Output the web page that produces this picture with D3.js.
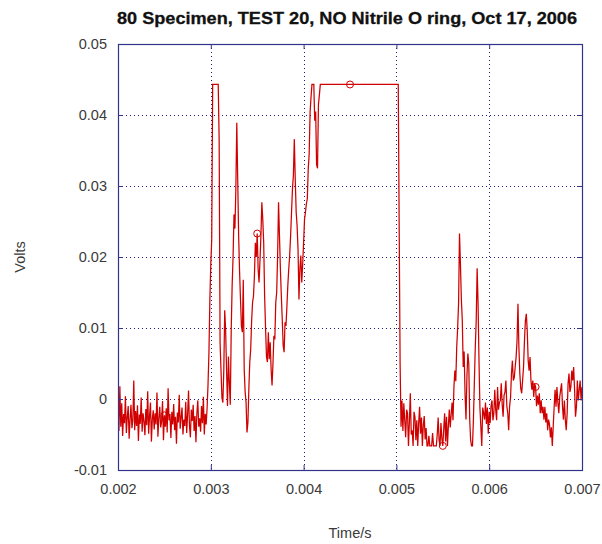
<!DOCTYPE html>
<html>
<head>
<meta charset="utf-8">
<script src="https://cdn.jsdelivr.net/npm/d3@7"></script>
<style>
  html, body { margin: 0; padding: 0; background: #fff; }
  svg { display: block; }
  text { font-family: "Liberation Sans", Arial, sans-serif; }
</style>
</head>
<body>
<svg id="chart" width="602" height="544"></svg>
<script>
// Acquisition grid: one sample every 10 microseconds from t = 2 ms
const startTime = 0.002;
const sampleStep = 0.00001;

// Recorded trace in millivolts, split by phase of the test
const preTrigger_mV = [
  -1.2, -4.5, 1.8, -3.9, -0.6, -5.2, -2.1, -3.4, 0.4, -4.8,
  -2.6, -1.0, -5.6, -2.9, -0.8, -4.1, -3.0, 2.6, -4.4, -1.7,
  -3.8, -0.9, -5.9, -2.2, -3.5, 0.2, -4.6, -2.0, -3.1, -5.1,
  -1.4, -3.7, 1.1, -4.9, -2.4, -0.5, -6.0, -2.8, -1.6, -4.3,
  -2.0, -3.6, 0.9, -5.3, -2.7, -1.1, -4.0, -3.2, -0.3, -5.8,
  -2.3, -3.9, -1.3, -4.7, 1.5, -3.0, -2.1, -5.5, -1.8, -3.6,
  -0.7, -4.4, -2.5, -6.3, -1.9, -3.3, 0.6, -4.2, -2.6, -1.2,
  -5.0, -2.9, -3.8, -0.4, -4.8, -2.2, 1.2, -3.7, -5.4, -1.5,
  -3.1, -0.8, -4.5, -2.4, -6.1, -2.0, -0.2, -3.9, -2.7, -4.6,
  -1.0, -3.4, 0.3, -5.0, -2.1, -3.6, -1.3
];

const firstBurst_mV = [
  2.0, 6.5, 14.0,
  19.0, 22.5, 44.3, 44.3, 44.3, 44.3, 44.3, 44.3, 44.3, 36.5,
  8.0, 4.0, 0.2, -0.5, 4.0, 12.5, 9.6, 4.0, -1.0, 6.0,
  2.3, -0.8, 9.7, 16.0, 20.0, 26.0, 24.0, 29.6, 38.9, 31.0,
  23.0, 18.0, 14.0, 10.3, 9.4, 16.8, 4.2, 1.0, -0.5, -4.7,
  -3.3, 1.4, 5.2, 7.0, 11.0, 13.6, 14.5, 17.3, 22.0, 20.0,
  23.3, 18.3, 16.4, 19.5, 23.0, 27.7, 25.3, 22.0, 14.5, 10.0,
  6.0, 5.2, 9.4, 5.6, 8.0, 4.2, 1.9, 5.0, 8.9, 8.4,
  13.6, 15.0, 20.2, 27.7, 23.0, 18.3, 14.5, 11.2, 7.5, 6.6,
  10.8, 10.3, 13.0, 16.0, 18.3, 20.2, 23.0, 26.3, 29.6, 31.5,
  36.6, 31.0, 26.3, 24.4, 21.1, 14.0, 18.3, 20.2, 16.4, 19.0,
  22.0, 25.3, 26.3, 27.5, 28.2, 32.4, 34.5, 40.4, 42.5, 44.3,
  44.3, 44.3, 39.2, 40.5, 33.0, 32.5, 41.5, 42.8
];

// Amplifier clipped at its upper limit for this stretch
const saturated_mV = [
  44.3, 44.3,
  44.3, 44.3, 44.3, 44.3, 44.3, 44.3, 44.3, 44.3, 44.3, 44.3,
  44.3, 44.3, 44.3, 44.3, 44.3, 44.3, 44.3, 44.3, 44.3, 44.3,
  44.3, 44.3, 44.3, 44.3, 44.3, 44.3, 44.3, 44.3, 44.3, 44.3,
  44.3, 44.3, 44.3, 44.3, 44.3, 44.3, 44.3, 44.3, 44.3, 44.3,
  44.3, 44.3, 44.3, 44.3, 44.3, 44.3, 44.3, 44.3, 44.3, 44.3,
  44.3, 44.3, 44.3, 44.3, 44.3, 44.3, 44.3, 44.3, 44.3, 44.3,
  44.3, 44.3, 44.3, 44.3, 44.3, 44.3, 44.3, 44.3, 44.3, 44.3,
  44.3, 44.3, 44.3, 44.3, 44.3, 44.3, 44.3, 44.3, 44.3, 44.3,
  44.3, 44.3, 44.3
];

const release_mV = [
  24.0, 4.9, -3.9, -0.2, -4.5, -0.6, -3.0,
  -5.4, -1.5, -2.0, -6.6, -3.2, 0.8, -5.0, -4.4, -6.6, -1.8,
  -2.5, -5.8, -3.0, -6.6, -3.4, -1.1, -4.9, -2.6, -6.6, -3.7,
  -2.4, -5.7, -4.1, -6.6, -6.6, -5.2, -6.6, -6.6, -6.6, -4.8,
  -6.6, -6.6, -6.6, -6.6, -5.0, -2.6, -5.8, -6.6, -3.4, -5.6,
  -6.6, -4.2, -2.0, -6.0, -2.5, -6.6, -3.8, -1.5, -4.0, -2.2,
  -0.5, -3.0
];

const afterShocks_mV = [
  1.7, 4.0, 2.5, 7.3, 10.0, 13.5, 23.3, 19.0,
  14.0, 11.1, 4.5, 6.7, 0.6, -2.9, 3.2, 6.4, 5.0, -2.9,
  -5.8, -6.6, -6.6, -2.9, 2.3, 7.3, 11.0, 18.4, 13.5, 5.4,
  -1.2, -3.9, -6.6, -1.2, -2.0, -2.9, -0.5, -3.5, -1.2, -4.9,
  -1.8, -3.4, -1.0, -0.2, -3.0, -2.0, 1.3, -1.5, -3.0, 1.7,
  -1.5, -0.5, -0.2, 2.2, -0.8, -2.5, 0.5, 1.0, 2.6, -1.0,
  -2.0, -4.4, -1.0, 0.2, 3.6, 5.4, 2.6, 3.0, 4.5, 5.9,
  8.2, 13.4, 7.3, 3.6, 1.5, 0.8, 2.6, 4.5, 8.2, 11.0,
  12.0, 9.6, 5.4, 4.0, 5.9, 2.6, 1.3, 2.6, 0.3, 2.2,
  1.7, -1.0, 0.5, -0.8, 0.8, -2.0, -0.2, -2.0, -1.1, -2.9,
  -1.1, -3.3, -2.0, -4.4, -2.9, -3.6, -5.4, -4.0, -6.6, -3.8,
  -1.1, 1.3, -1.1, 1.7, -0.5, -2.0, 0.3, 1.3, 2.2, -1.1,
  -2.9, -0.2, -2.9, -4.4, -2.0, 2.2, 3.6, 1.0, 1.7, 4.0,
  2.6, 4.5, 1.3, -2.5, -1.1, 2.6, -0.2, 1.3, 2.6, -0.2,
  1.7
];

// Sample times that carry a circle marker
const markerTimes = [0.0025, 0.0035, 0.0045, 0.0055, 0.0065];

// Axis ticks and their printed labels
const xTicks = [0.002, 0.003, 0.004, 0.005, 0.006, 0.007];
const xTickLabels = ["0.002", "0.003", "0.004", "0.005", "0.006", "0.007"];
const yTicks = [-0.01, 0, 0.01, 0.02, 0.03, 0.04, 0.05];
const yTickLabels = ["-0.01", "0", "0.01", "0.02", "0.03", "0.04", "0.05"];

const titleText = "80 Specimen, TEST 20, NO Nitrile O ring, Oct 17, 2006";
const xLabelText = "Time/s";
const yLabelText = "Volts";

// ---- build the series ----
const trace_mV = [].concat(preTrigger_mV, firstBurst_mV, saturated_mV, release_mV, afterShocks_mV);
const samples = trace_mV.map((mv, i) => ({ t: startTime + i * sampleStep, v: mv / 1000 }));

// ---- layout ----
const plot = { left: 118, top: 44, width: 464, height: 426 };
const svg = d3.select("#chart");

const x = d3.scaleLinear().domain([0.002, 0.007]).range([plot.left, plot.left + plot.width]);
const y = d3.scaleLinear().domain([-0.01, 0.05]).range([plot.top + plot.height, plot.top]);

const axisColor = "#33338a";
const gridColor = "#1c1c80";
const lineColor = "#d00000";

// Grid lines (dotted) at interior ticks
const grid = svg.append("g");
grid.selectAll("line.vx")
  .data(xTicks.slice(1, -1))
  .join("line")
  .attr("x1", d => Math.round(x(d)) + 0.5).attr("x2", d => Math.round(x(d)) + 0.5)
  .attr("y1", plot.top).attr("y2", plot.top + plot.height)
  .attr("stroke", gridColor).attr("stroke-width", 1)
  .attr("stroke-dasharray", "1,3");
grid.selectAll("line.hy")
  .data(yTicks.slice(1, -1))
  .join("line")
  .attr("y1", d => Math.round(y(d)) + 0.5).attr("y2", d => Math.round(y(d)) + 0.5)
  .attr("x1", plot.left).attr("x2", plot.left + plot.width)
  .attr("stroke", gridColor).attr("stroke-width", 1)
  .attr("stroke-dasharray", "1,3");

// Signal trace
const clipId = "plot-clip";
svg.append("clipPath").attr("id", clipId)
  .append("rect")
  .attr("x", plot.left).attr("y", plot.top)
  .attr("width", plot.width).attr("height", plot.height);

const line = d3.line().x(d => x(d.t)).y(d => y(d.v));
svg.append("path")
  .datum(samples)
  .attr("clip-path", `url(#${clipId})`)
  .attr("fill", "none")
  .attr("stroke", lineColor)
  .attr("stroke-width", 1.25)
  .attr("stroke-linejoin", "miter")
  .attr("d", line);

// Circle markers on selected samples
const markerSamples = markerTimes.map(t => samples[Math.round((t - startTime) / sampleStep)]);
svg.append("g").selectAll("circle")
  .data(markerSamples)
  .join("circle")
  .attr("cx", d => x(d.t)).attr("cy", d => y(d.v))
  .attr("r", 3.5)
  .attr("fill", "none")
  .attr("stroke", lineColor)
  .attr("stroke-width", 1);

// Axes: labels outside, short tick marks pointing in
const tickFont = "14.5px";
const xAxis = d3.axisBottom(x).tickValues(xTicks).tickFormat((d, i) => xTickLabels[i]).tickSize(-5).tickPadding(14);
const yAxis = d3.axisLeft(y).tickValues(yTicks).tickFormat((d, i) => yTickLabels[i]).tickSize(-5).tickPadding(11);
const xAxisTop = d3.axisTop(x).tickValues(xTicks).tickFormat("").tickSize(-5);
const yAxisRight = d3.axisRight(y).tickValues(yTicks).tickFormat("").tickSize(-5);

function styleAxis(g) {
  g.select(".domain").remove();
  g.selectAll(".tick line").attr("stroke", axisColor);
  g.selectAll(".tick text").attr("fill", "#3a3a3a").style("font-size", tickFont)
    .style("font-family", "'Liberation Sans', Arial, sans-serif");
}

svg.append("g").attr("transform", `translate(0,${plot.top + plot.height})`).call(xAxis).call(styleAxis);
svg.append("g").attr("transform", `translate(${plot.left},0)`).call(yAxis).call(styleAxis);
svg.append("g").attr("transform", `translate(0,${plot.top})`).call(xAxisTop).call(styleAxis);
svg.append("g").attr("transform", `translate(${plot.left + plot.width},0)`).call(yAxisRight).call(styleAxis);

// Frame
svg.append("rect")
  .attr("x", plot.left + 0.5).attr("y", plot.top + 0.5)
  .attr("width", plot.width).attr("height", plot.height)
  .attr("fill", "none").attr("stroke", axisColor).attr("stroke-width", 1.2);

// Title and axis labels
svg.append("text")
  .attr("x", 347).attr("y", 24)
  .attr("text-anchor", "middle")
  .style("font-size", "17px").style("font-weight", "bold")
  .attr("fill", "#111").attr("stroke", "#111").attr("stroke-width", 0.3)
  .attr("textLength", 460).attr("lengthAdjust", "spacingAndGlyphs")
  .text(titleText);

svg.append("text")
  .attr("x", plot.left + plot.width / 2).attr("y", 538)
  .attr("text-anchor", "middle")
  .style("font-size", tickFont).attr("fill", "#3a3a3a")
  .text(xLabelText);

svg.append("text")
  .attr("transform", `translate(25,${plot.top + plot.height / 2}) rotate(-90)`)
  .attr("text-anchor", "middle")
  .style("font-size", tickFont).attr("fill", "#3a3a3a")
  .text(yLabelText);
</script>
</body>
</html>
